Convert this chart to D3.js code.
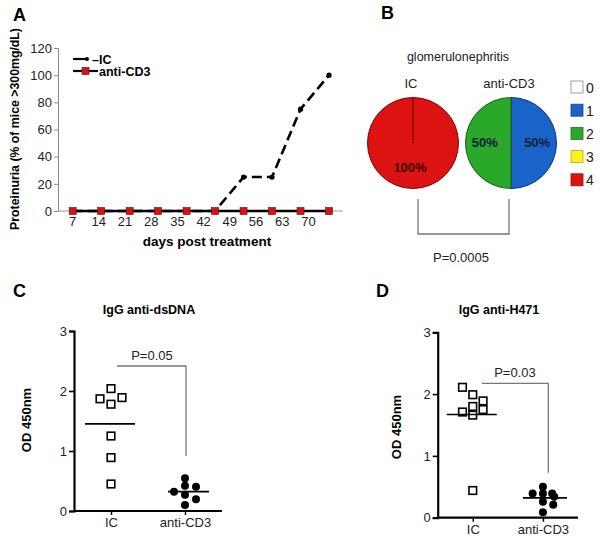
<!DOCTYPE html>
<html><head><meta charset="utf-8">
<script src="https://cdnjs.cloudflare.com/ajax/libs/d3/7.8.5/d3.min.js"></script>
<style>body{margin:0;background:#fff}svg{display:block;font-family:"Liberation Sans",Arial,sans-serif}</style>
</head><body><svg id="c" width="601" height="538"></svg>
<script>
// ---- Panel A data
const days = [7,14,21,28,35,42,49,56,63,70];
const icProteinuria = [0,0,0,0,0,0,25,25,75,100];
const cd3Proteinuria = [0,0,0,0,0,0,0,0,0,0];
const yTicksA = [0,20,40,60,80,100,120];
// ---- Panel B data
const grades = ["0","1","2","3","4"];
const gradeColors = ["#ffffff","#1a63c9","#29a829","#fff21a","#dd1212"];
const icGrades = [0,0,0,0,100];
const cd3Grades = [0,50,50,0,0];
// ---- Panel C data (value, jitter slot)
const groups = ["IC","anti-CD3"];
const dsdnaIC = [2.04,1.87,1.78,1.89,1.25,0.89,0.45];
const dsdnaICslot = [0,-1,0,1,0,0,0];
const dsdnaCD3 = [0.545,0.42,0.32,0.405,0.27,0.195,0.10];
const dsdnaCD3slot = [0,0,-1,1,0,1,0];
// ---- Panel D data
const h471IC = [2.11,1.99,1.89,1.80,1.75,1.71,1.66,0.44];
const h471ICslot = [-1,0,1,0,1,-1,0,0];
const h471CD3 = [0.50,0.39,0.39,0.39,0.34,0.26,0.21,0.09];
const h471CD3slot = [0,-1,0,0.9,1.1,0,1,0];
const yTicksCD = [0,1,2,3];

const svg = d3.select("#c");
const FONT = '"Liberation Sans",Arial,sans-serif';

function panelLabel(t,x,y){svg.append("text").attr("x",x).attr("y",y).attr("font-size",18).attr("font-weight","bold").text(t);}

// ================= Panel A
panelLabel("A",13,21);
const yA = d3.scaleLinear().domain([0,120]).range([211,48]);
const xA = d3.scaleLinear().domain([7,70]).range([72.7,329]);
const xLab = d3.scaleLinear().domain([7,70]).range([72,308]);
const gA = svg.append("g");
// y axis
const yAx = gA.append("g").attr("transform","translate(58,0)")
  .call(d3.axisLeft(yA).tickValues(yTicksA).tickSize(4).tickPadding(2));
yAx.select(".domain").attr("stroke","#888");
yAx.selectAll(".tick line").attr("stroke","#888");
yAx.selectAll("text").attr("font-size",13).attr("font-family",FONT).attr("fill","#222");
// x axis line
gA.append("line").attr("x1",58).attr("x2",343).attr("y1",yA(0)).attr("y2",yA(0)).attr("stroke","#999").attr("stroke-width",1.2);
const xAx = gA.append("g").attr("transform",`translate(0,${yA(0)})`)
  .call(d3.axisBottom(xLab).tickValues(days).tickSize(0).tickPadding(6).tickFormat(d3.format("d")));
xAx.select(".domain").remove();
xAx.selectAll("text").attr("font-size",13).attr("font-family",FONT).attr("fill","#222");
// labels
gA.append("text").attr("x",207).attr("y",246).attr("text-anchor","middle").attr("font-size",13.5).attr("font-weight","bold").text("days post treatment");
gA.append("text").attr("transform","translate(19,129) rotate(-90)").attr("text-anchor","middle").attr("font-size",12.3).attr("font-weight","bold").text("Proteinuria (% of mice >300mg/dL)");
// IC dashed line
const lineA = d3.line().x((d,i)=>xA(days[i])).y(d=>yA(d));
gA.append("path").datum(icProteinuria).attr("d",lineA).attr("fill","none").attr("stroke","#000").attr("stroke-width",2.6).attr("stroke-dasharray","10,5");
gA.selectAll(".icpt").data(icProteinuria).join("circle").attr("cx",(d,i)=>xA(days[i])).attr("cy",d=>yA(d)).attr("r",2.6).attr("fill","#000");
// anti-CD3 line
gA.append("path").datum(cd3Proteinuria).attr("d",lineA).attr("fill","none").attr("stroke","#000").attr("stroke-width",2.6);
gA.selectAll(".cdpt").data(cd3Proteinuria).join("rect").attr("x",(d,i)=>xA(days[i])-3.5).attr("y",d=>yA(d)-3.5).attr("width",7).attr("height",7).attr("fill","#d41414").attr("stroke","#7a0000").attr("stroke-width",0.6);
// legend
gA.append("line").attr("x1",73).attr("x2",87).attr("y1",59).attr("y2",59).attr("stroke","#000").attr("stroke-width",2.2);
gA.append("circle").attr("cx",87).attr("cy",59).attr("r",2).attr("fill","#000");
gA.append("text").attr("x",92).attr("y",63.5).attr("font-size",12.5).attr("font-weight","bold").text("–IC");
gA.append("line").attr("x1",73).attr("x2",98).attr("y1",71).attr("y2",71).attr("stroke","#000").attr("stroke-width",2.2);
gA.append("rect").attr("x",82).attr("y",67.5).attr("width",7).attr("height",7).attr("fill","#d41414").attr("stroke","#7a0000").attr("stroke-width",0.6);
gA.append("text").attr("x",99).attr("y",76).attr("font-size",12.5).attr("font-weight","bold").text("anti-CD3");

// ================= Panel B
panelLabel("B",381,19);
const gB = svg.append("g");
gB.append("text").attr("x",458).attr("y",61).attr("text-anchor","middle").attr("font-size",12.5).attr("fill","#222").text("glomerulonephritis");
const pie = d3.pie().sort(null).value(d=>d);
const arc = d3.arc().innerRadius(0).outerRadius(45.5);
function drawPie(vals,cx,cy,title){
  const g = gB.append("g").attr("transform",`translate(${cx},${cy})`);
  g.selectAll("path").data(pie(vals).filter(d=>d.value>0)).join("path").attr("d",arc)
    .attr("fill",d=>gradeColors[d.index]).attr("stroke",d=>d3.color(gradeColors[d.index]).darker(1.6)).attr("stroke-width",1);
  gB.append("text").attr("x",cx-2).attr("y",88).attr("text-anchor","middle").attr("font-size",13).attr("fill","#222").text(title);
  return g;
}
const pIC = drawPie(icGrades,413,143,"IC");
pIC.append("line").attr("x1",0).attr("y1",0).attr("x2",0).attr("y2",-45.5).attr("stroke","#5a0000").attr("stroke-width",1);
pIC.append("text").attr("x",-3).attr("y",29).attr("text-anchor","middle").attr("font-size",13).attr("font-weight","bold").attr("fill","#3a0505").text(icGrades[4]+"%");
const pCD = drawPie(cd3Grades,511,143,"anti-CD3");
pie(cd3Grades).filter(d=>d.value>0).forEach(d=>{
  const c = arc.centroid(d);
  pCD.append("text").attr("x",c[0]*1.15).attr("y",4).attr("text-anchor","middle").attr("font-size",13).attr("font-weight","bold").attr("fill","#10203a").text(d.value+"%");
});
// legend
const lg = gB.selectAll(".lg").data(grades).join("g").attr("transform",(d,i)=>`translate(571,${81+i*23.2})`);
lg.append("rect").attr("width",12).attr("height",12).attr("fill",(d,i)=>gradeColors[i]).attr("stroke",(d,i)=>i===0?"#888":d3.color(gradeColors[i]).darker(1)).attr("stroke-width",0.8);
lg.append("text").attr("x",15).attr("y",11.5).attr("font-size",14).attr("fill","#222").text(d=>d);
// bracket
gB.append("path").attr("d","M418,199V234H509V199").attr("fill","none").attr("stroke","#777").attr("stroke-width",1.3);
gB.append("text").attr("x",461).attr("y",262).attr("text-anchor","middle").attr("font-size",13).attr("fill","#222").text("P=0.0005");

// ================= Dot plots
function dotPanel(opt){
  const g = svg.append("g");
  const y = d3.scaleLinear().domain([0,3]).range([opt.y0,opt.y3]);
  const x = d3.scalePoint().domain(groups).range([opt.xl,opt.xr]).padding(0.5);
  const yax = g.append("g").attr("transform",`translate(${opt.xl},0)`).call(d3.axisLeft(y).tickValues(yTicksCD).tickFormat(d3.format("d")).tickSize(5).tickPadding(2));
  yax.select(".domain").attr("stroke","#000").attr("stroke-width",2.2);
  yax.selectAll(".tick line").attr("stroke","#000").attr("stroke-width",1.6);
  yax.selectAll("text").attr("font-size",13).attr("font-family",FONT).attr("fill","#222");
  const xax = g.append("g").attr("transform",`translate(0,${opt.y0})`).call(d3.axisBottom(x).tickSize(4).tickPadding(3));
  xax.select(".domain").attr("stroke","#000").attr("stroke-width",2.2).attr("d",`M${opt.xl},0H${opt.xr}`);
  xax.selectAll(".tick line").attr("stroke","#000").attr("stroke-width",1.5);
  xax.selectAll("text").attr("font-size",13).attr("font-family",FONT).attr("fill","#222");
  g.append("text").attr("x",opt.tx).attr("y",314).attr("text-anchor","middle").attr("font-size",12.5).attr("font-weight","bold").text(opt.title);
  g.append("text").attr("transform",`translate(${opt.ylx},${opt.yly}) rotate(-90)`).attr("text-anchor","middle").attr("font-size",13).attr("font-weight","bold").text("OD 450nm");
  const slot = opt.slot;
  // means
  [opt.ic,opt.cd].forEach((vals,k)=>{
    const m = d3.mean(vals), cx = x(groups[k]);
    g.append("line").attr("x1",cx-opt.mw[k][0]).attr("x2",cx+opt.mw[k][1]).attr("y1",y(m)).attr("y2",y(m)).attr("stroke","#000").attr("stroke-width",1.6);
  });
  g.selectAll(".sq").data(opt.ic).join("rect").attr("x",(d,i)=>x("IC")+opt.icSlot[i]*slot-3.8).attr("y",d=>y(d)-3.8)
    .attr("width",7.6).attr("height",7.6).attr("fill","none").attr("stroke","#000").attr("stroke-width",1.6);
  g.selectAll(".dt").data(opt.cd).join("circle").attr("cx",(d,i)=>x("anti-CD3")+opt.cdSlot[i]*slot).attr("cy",d=>y(d)).attr("r",4).attr("fill","#000");
  // bracket
  g.append("path").attr("d",`M${opt.bx1},${opt.by1}H${opt.bx2}V${opt.by2}`).attr("fill","none").attr("stroke","#777").attr("stroke-width",1.3);
  g.append("text").attr("x",opt.px).attr("y",opt.py).attr("text-anchor","middle").attr("font-size",13).attr("fill","#222").text(opt.p);
}
panelLabel("C",13,297);
dotPanel({xl:74,xr:222,y0:511,y3:331,ic:dsdnaIC,icSlot:dsdnaICslot,cd:dsdnaCD3,cdSlot:dsdnaCD3slot,slot:11,
  title:"IgG anti-dsDNA",tx:149,ylx:31,yly:420,mw:[[26,24],[17,24]],
  bx1:117,by1:366,bx2:186,by2:456,px:152,py:360,p:"P=0.05"});
panelLabel("D",376,297);
dotPanel({xl:437.7,xr:578,y0:517.7,y3:332.3,ic:h471IC,icSlot:h471ICslot,cd:h471CD3,cdSlot:h471CD3slot,slot:10.3,
  title:"IgG anti-H471",tx:499,ylx:401,yly:427,mw:[[26,24],[20,24]],
  bx1:482,by1:383.3,bx2:548.3,by2:472.7,px:515,py:377,p:"P=0.03"});
</script></body></html>
